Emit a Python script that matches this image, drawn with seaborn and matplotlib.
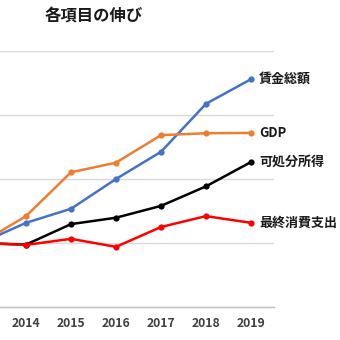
import matplotlib
matplotlib.use("Agg")
import matplotlib.pyplot as plt
import seaborn as sns
import pandas as pd

years = [2013, 2014, 2015, 2016, 2017, 2018, 2019]
wages = [100.0, 100.63, 101.07, 102.0, 102.85, 104.35, 105.12]
gdp = [100.0, 100.84, 102.21, 102.51, 103.37, 103.43, 103.44]
disposable = [100.0, 99.95, 100.59, 100.79, 101.16, 101.77, 102.53]
consumption = [100.0, 99.94, 100.13, 99.88, 100.5, 100.84, 100.63]

series_names = ["賃金総額", "GDP", "可処分所得", "最終消費支出"]
series_values = [wages, gdp, disposable, consumption]
series_colors = ["#4472C4", "#ED7D31", "#000000", "#FF0000"]
y_ticks = [98, 100, 102, 104, 106]
title = "各項目の伸び"

sns.set_theme(style="white")
plt.rcParams["font.family"] = ["Noto Sans CJK JP", "DejaVu Sans"]

rows = []
for name, vals in zip(series_names, series_values):
    for yr, v in zip(years, vals):
        rows.append({"year": yr, "value": v, "series": name})
df = pd.DataFrame(rows)

fig = plt.figure(figsize=(3.4, 3.4), dpi=100)
ax = fig.add_axes([-41.5 / 340, 33 / 340, 315 / 340, 256 / 340])

sns.lineplot(data=df, x="year", y="value", hue="series", hue_order=series_names,
             palette=series_colors, marker="o", markersize=4.5, markeredgewidth=0,
             linewidth=1.8, legend=False, ax=ax)

ax.set_xlim(2012.5, 2019.5)
ax.set_ylim(y_ticks[0], y_ticks[-1])
ax.set_yticks(y_ticks)
ax.set_yticklabels([])
# the first year sits outside the visible canvas, so only the later years get labels
ax.set_xticks(years[1:])
ax.set_xticklabels([str(y) for y in years[1:]], fontsize=8.8, fontweight="bold", color="#404040")
ax.tick_params(axis="x", length=0, pad=7)
ax.tick_params(axis="y", length=0)
ax.grid(axis="y", color="#D9D9D9", linewidth=1)
ax.set_axisbelow(True)
ax.set_xlabel("")
ax.set_ylabel("")
for side in ["top", "left", "right"]:
    ax.spines[side].set_visible(False)
ax.spines["bottom"].set_color("#BFBFBF")
ax.spines["bottom"].set_linewidth(1)

for name, vals in zip(series_names, series_values):
    ax.annotate(name, xy=(years[-1], vals[-1]), xytext=(8, 0), textcoords="offset pixels",
                va="center", ha="left", fontsize=9.4, fontweight="bold", color="#1a1a1a",
                annotation_clip=False)

fig.text(45 / 340, 1 - 17 / 340, title, ha="left", va="center",
         fontsize=11.8, fontweight="bold", color="#1a1a1a")

fig.savefig("out.png", dpi=100)
